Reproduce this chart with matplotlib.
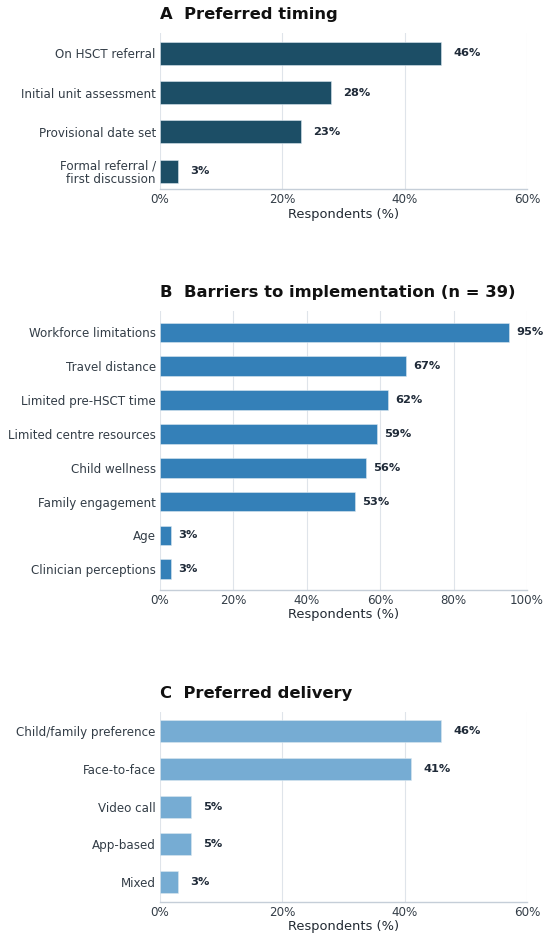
import matplotlib
matplotlib.use("Agg")
import matplotlib.pyplot as plt

# Data
timing_labels = ["On HSCT referral", "Initial unit assessment", "Provisional date set",
                 "Formal referral /\nfirst discussion"]
timing_values = [46, 28, 23, 3]

barrier_labels = ["Workforce limitations", "Travel distance", "Limited pre-HSCT time",
                  "Limited centre resources", "Child wellness", "Family engagement",
                  "Age", "Clinician perceptions"]
barrier_values = [95, 67, 62, 59, 56, 53, 3, 3]

delivery_labels = ["Child/family preference", "Face-to-face", "Video call", "App-based", "Mixed"]
delivery_values = [46, 41, 5, 5, 3]

titles = ["A  Preferred timing", "B  Barriers to implementation (n = 39)", "C  Preferred delivery"]
xmaxes = [60, 100, 60]
xticks = [[0, 20, 40, 60], [0, 20, 40, 60, 80, 100], [0, 20, 40, 60]]
colors = ["#1c4e66", "#3480b8", "#76acd3"]

W, H = 550, 941
fig = plt.figure(figsize=(W / 100, H / 100), dpi=100)

# axes boxes in pixels: (top, bottom)
boxes = [(32.7, 189.3), (310.7, 589.5), (711.7, 901.7)]
ylims = [(3.46, -0.52), (7.6, -0.64), (4.52, -0.52)]
left_px, right_px = 160, 527

panels = [(timing_labels, timing_values), (barrier_labels, barrier_values),
          (delivery_labels, delivery_values)]

text_col = "#333d47"
grid_col = "#dfe4ea"
spine_col = "#c5ced8"
val_col = "#1f2a38"

for i, (labels, values) in enumerate(panels):
    top, bot = boxes[i]
    ax = fig.add_axes([left_px / W, 1 - bot / H, (right_px - left_px) / W, (bot - top) / H])
    ypos = list(range(len(values)))
    ax.barh(ypos, values, height=0.58, color=colors[i], edgecolor="#dbe8f0",
            linewidth=0.4, zorder=3)
    for y, v in zip(ypos, values):
        ax.text(v + 2, y, f"{v}%", va="center", ha="left", fontsize=8.2,
                fontweight="bold", color=val_col, zorder=4)
    ax.set_yticks(ypos)
    ax.set_yticklabels(labels, fontsize=8.6, color=text_col, linespacing=1.05)
    ax.set_xlim(0, xmaxes[i])
    ax.set_ylim(*ylims[i])
    ax.set_xticks(xticks[i])
    ax.set_xticklabels([f"{t}%" for t in xticks[i]], fontsize=8.6, color=text_col)
    ax.tick_params(axis="y", length=0, pad=3)
    ax.tick_params(axis="x", length=0, pad=3)
    ax.set_xlabel("Respondents (%)", fontsize=9.4, color="#222a33", labelpad=1)
    ax.grid(axis="x", color=grid_col, linewidth=0.8, zorder=0)
    ax.set_axisbelow(True)
    for s in ["top", "right", "left"]:
        ax.spines[s].set_visible(False)
    ax.spines["bottom"].set_color(spine_col)
    ax.spines["bottom"].set_linewidth(1.0)
    ax.set_title(titles[i], loc="left", fontsize=11.8, fontweight="bold",
                 color="#111111", pad=10)

fig.savefig("out.png", dpi=100, facecolor="white")
